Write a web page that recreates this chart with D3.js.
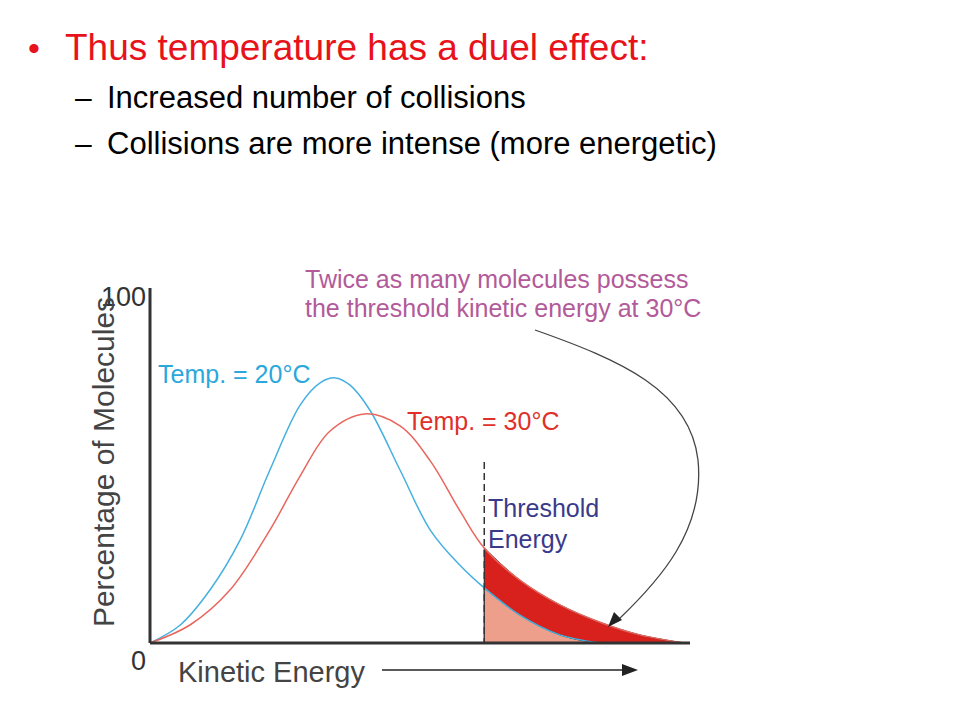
<!DOCTYPE html><html><head><script src="https://cdn.jsdelivr.net/npm/d3@7"></script>
<style>body{margin:0;background:#fff}</style></head><body><svg id="c" width="960" height="720"></svg><script>
const blueX=[0,5.6,11.1,16.7,22.2,27.8,31.5,34.3,37,40.7,46.3,51.9,57.4,61.9,68.5,75.9,83.3,90.7,99];
const blueY=[0,5.1,15,29.2,49,67.4,73.7,75.1,73.1,66,49,32,22,15.6,7.9,2.3,0,0,0];
const redX=[0,7.4,14.8,22.2,27.8,33.3,39.8,46.3,51.9,57.4,61.9,68.5,75.9,83.3,90.7,99];
const redY=[0,5.1,15,32,47.3,60,64.9,61.5,51.6,37.4,26.9,17.8,10.8,5.9,2.3,0];
const threshold=61.9;
const svg=d3.select("#c"),F="Liberation Sans, Arial, sans-serif";
const x=d3.scaleLinear().domain([0,100]).range([150,690]);
const y=d3.scaleLinear().domain([0,100]).range([643,290]);
const blue=blueX.map((v,i)=>[v,blueY[i]]), red=redX.map((v,i)=>[v,redY[i]]);
const bTail=blue.filter(d=>d[0]>=threshold), rTail=red.filter(d=>d[0]>=threshold);
const curve=d3.curveCatmullRom.alpha(0.5);
svg.append("text").attr("x",28).attr("y",60).attr("font-family",F).attr("font-size",34).attr("fill","#e8121a").text("•");
svg.append("text").attr("x",65).attr("y",60).attr("font-family",F).attr("font-size",37).attr("fill","#e8121a").text("Thus temperature  has a duel effect:");
[["Increased number of collisions",108],["Collisions are more intense (more energetic)",154]].forEach(([t,yy])=>{
 svg.append("text").attr("x",75).attr("y",yy).attr("font-family",F).attr("font-size",30).text("–");
 svg.append("text").attr("x",107).attr("y",yy).attr("font-family",F).attr("font-size",31).text(t);});
const rA=d3.area().curve(curve).x(d=>x(d[0])).y0(y(0)).y1(d=>y(d[1]));
svg.append("path").attr("d",rA(rTail)).attr("fill","#d8201c").attr("stroke","#222").attr("stroke-width",1);
svg.append("path").attr("d",rA(bTail)).attr("fill","#ee9f8c").attr("stroke","#222").attr("stroke-width",1);
const ln=d3.line().curve(curve).x(d=>x(d[0])).y(d=>y(d[1]));
svg.append("path").attr("d",ln(blue.filter(d=>d[0]<=83.3))).attr("fill","none").attr("stroke","#45b0e0").attr("stroke-width",1.5);
svg.append("path").attr("d",ln(red)).attr("fill","none").attr("stroke","#e8665e").attr("stroke-width",1.5);
svg.append("line").attr("x1",x(threshold)).attr("x2",x(threshold)).attr("y1",462).attr("y2",y(0)).attr("stroke","#333").attr("stroke-width",1.5).attr("stroke-dasharray","7,4");
svg.append("line").attr("x1",150).attr("x2",690).attr("y1",643).attr("y2",643).attr("stroke","#333").attr("stroke-width",3);
svg.append("line").attr("x1",150).attr("x2",150).attr("y1",288).attr("y2",643).attr("stroke","#333").attr("stroke-width",3);
svg.append("text").attr("x",146).attr("y",306).attr("text-anchor","end").attr("font-family",F).attr("font-size",27).attr("fill","#333").text("100");
svg.append("text").attr("x",146).attr("y",670).attr("text-anchor","end").attr("font-family",F).attr("font-size",27).attr("fill","#333").text("0");
svg.append("text").attr("transform","translate(114,462) rotate(-90)").attr("text-anchor","middle").attr("font-family",F).attr("font-size",30).attr("fill","#444").text("Percentage of Molecules");
svg.append("text").attr("x",178).attr("y",682).attr("font-family",F).attr("font-size",29).attr("fill","#444").text("Kinetic Energy");
svg.append("line").attr("x1",382).attr("x2",625).attr("y1",670).attr("y2",670).attr("stroke","#222").attr("stroke-width",1.5);
svg.append("path").attr("d","M638,670 L622,664 L622,676Z").attr("fill","#222");
svg.append("text").attr("x",158).attr("y",383).attr("font-family",F).attr("font-size",25).attr("fill","#2aa8dc").text("Temp. = 20°C");
svg.append("text").attr("x",407).attr("y",430).attr("font-family",F).attr("font-size",25).attr("fill","#e0302a").text("Temp. = 30°C");
svg.append("text").attr("x",488).attr("y",517).attr("font-family",F).attr("font-size",25).attr("fill","#3a3a8a").text("Threshold");
svg.append("text").attr("x",488).attr("y",548).attr("font-family",F).attr("font-size",25).attr("fill","#3a3a8a").text("Energy");
svg.append("text").attr("x",305).attr("y",288).attr("font-family",F).attr("font-size",25).attr("fill","#b25a9a").text("Twice as many molecules possess");
svg.append("text").attr("x",305).attr("y",317).attr("font-family",F).attr("font-size",25).attr("fill","#b25a9a").text("the threshold kinetic energy at 30°C");
svg.append("path").attr("d","M535,330 C620,360 690,390 698,460 C705,530 660,580 618,620").attr("fill","none").attr("stroke","#444").attr("stroke-width",1.3);
svg.append("path").attr("d","M608,627 L614,612 L622,620Z").attr("fill","#222");
</script></body></html>
